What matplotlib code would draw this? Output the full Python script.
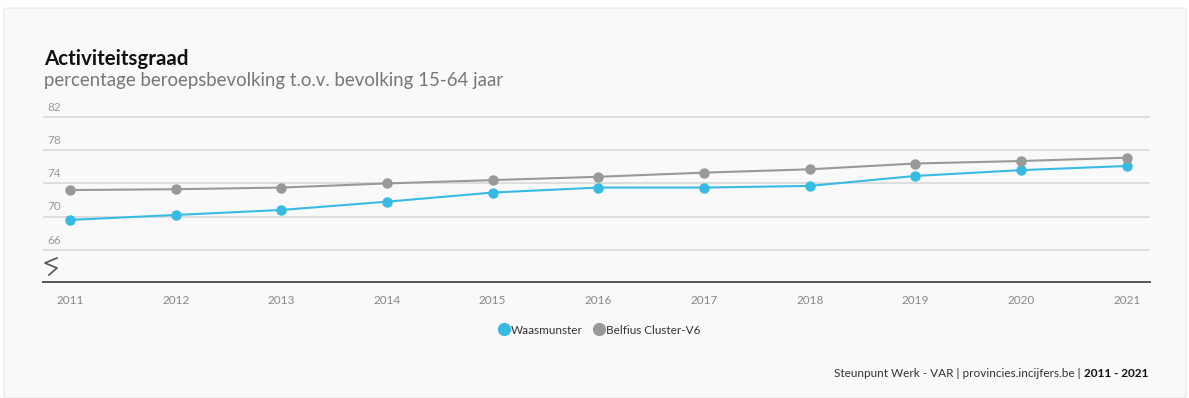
import matplotlib.pyplot as plt
from matplotlib.patches import FancyBboxPatch

# Activiteitsgraad per jaar (% beroepsbevolking t.o.v. bevolking 15-64 jaar)
years = [2011, 2012, 2013, 2014, 2015, 2016, 2017, 2018, 2019, 2020, 2021]
waasmunster = [69.6, 70.2, 70.8, 71.8, 72.9, 73.5, 73.5, 73.7, 74.9, 75.6, 76.1]
belfius = [73.2, 73.3, 73.5, 74.0, 74.4, 74.8, 75.3, 75.7, 76.4, 76.7, 77.1]
y_ticks = [66, 70, 74, 78, 82]

blue = "#38bbe3"
grey = "#999999"
font = "Lato"

W, H = 1189, 398
fig = plt.figure(figsize=(W / 100, H / 100), dpi=100)
fig.patch.set_facecolor("white")

# card background
card = FancyBboxPatch((4 / W, 0), 1182 / W, 390 / H,
                      boxstyle="round,pad=0,rounding_size=0.004",
                      transform=fig.transFigure, facecolor="#f9f9f9",
                      edgecolor="#ececec", linewidth=1.0, zorder=-5)
fig.patches.append(card)

ax = fig.add_axes([43 / W, 1 - 282 / H, 1107 / W, 177 / H], zorder=2)
ax.set_facecolor("none")

ax.plot(years, waasmunster, color=blue, lw=1.5, marker="o", ms=6.5,
        zorder=3, label="Waasmunster")
ax.plot(years, belfius, color=grey, lw=1.5, marker="o", ms=6.5,
        zorder=3, label="Belfius Cluster-V6")

ax.set_xlim(2010.745, 2021.22)
ax.set_ylim(62.12, 83.45)

ax.set_yticks([])
for v in y_ticks:
    ax.axhline(v, color="#dddddd", lw=1.4, zorder=1)
    ax.annotate(str(v), xy=(0, v), xycoords=("axes fraction", "data"),
                xytext=(3, 3), textcoords="offset points",
                fontsize=8.5, color="#999999", family=font,
                ha="left", va="bottom")

ax.set_xticks(years)
ax.set_xticklabels([str(y) for y in years], fontsize=8.5, color="#888888",
                   family=font)
ax.tick_params(axis="x", length=0, pad=9)

for s in ["top", "right", "left"]:
    ax.spines[s].set_visible(False)
ax.spines["bottom"].set_color("#555555")
ax.spines["bottom"].set_linewidth(1.4)

# axis-break zigzag
zx = [57, 45, 57, 49]
zy = [258, 263, 268, 275]
fig.add_artist(plt.Line2D([x / W for x in zx], [1 - y / H for y in zy],
                          transform=fig.transFigure, color="#555555", lw=1.2,
                          zorder=5))

fig.text(44 / W, 1 - 65 / H, "Activiteitsgraad", fontsize=14.8, weight="bold",
         color="#111111", family=font, ha="left", va="baseline")
fig.text(44 / W, 1 - 86 / H,
         "percentage beroepsbevolking t.o.v. bevolking 15-64 jaar",
         fontsize=13.4, color="#777777", family=font, ha="left", va="baseline")

leg = fig.legend(loc="center", bbox_to_anchor=(600 / W, 1 - 330 / H),
                 ncol=2, frameon=False, handlelength=0.8, handletextpad=0.2,
                 columnspacing=1.0, prop={"family": font, "size": 8.5})
for h in leg.legend_handles:
    h.set_linestyle("none")
    h.set_markersize(8.5)
for t in leg.get_texts():
    t.set_color("#333333")

bold = fig.text(1148 / W, 1 - 377 / H, "2011 - 2021", fontsize=8.5,
                weight="bold", color="#111111", family=font,
                ha="right", va="baseline")
fig.canvas.draw()
bb = bold.get_window_extent()
fig.text(bb.x0 / W, 1 - 377 / H,
         "Steunpunt Werk - VAR | provincies.incijfers.be | ",
         fontsize=8.5, color="#333333", family=font, ha="right",
         va="baseline")

fig.savefig("out.png", dpi=100, facecolor=fig.get_facecolor())
